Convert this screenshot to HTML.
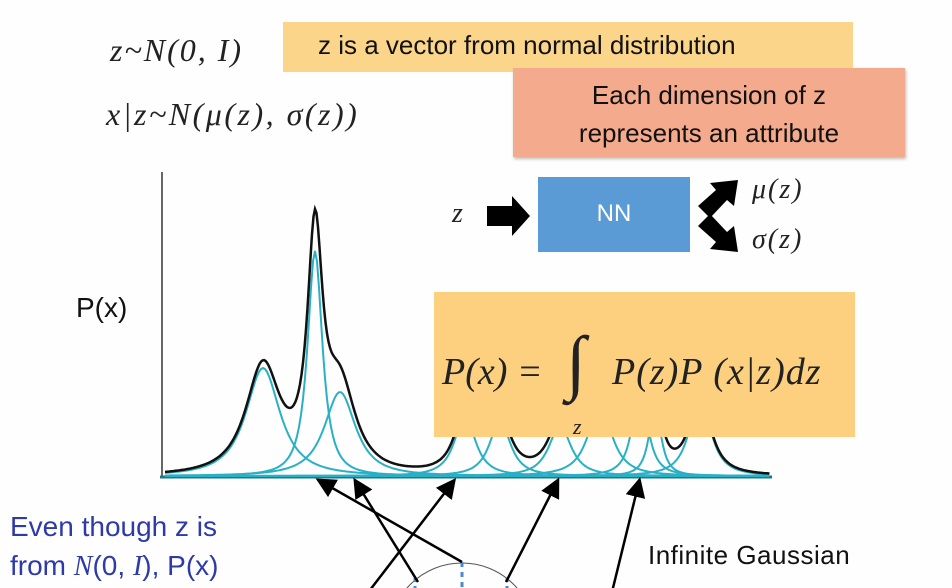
<!DOCTYPE html>
<html><head><meta charset="utf-8"><style>
body{margin:0;background:#fff;}
#c{position:relative;width:952px;height:588px;overflow:hidden;background:#fefefe;font-family:"Liberation Sans",sans-serif;}
.t{position:absolute;white-space:nowrap;}
.serif{font-family:"Liberation Serif",serif;font-style:italic;}
</style></head><body><div id="c">
<div style="position:absolute;left:283px;top:22px;width:570px;height:50px;background:#fbd68a;"></div>
<div class="t" style="left:318px;top:30px;font-size:26px;color:#111;">z is a vector from normal distribution</div>
<div style="position:absolute;left:513px;top:68px;width:392px;height:89px;background:#f4aa8c;box-shadow:1px 2px 3px #bbb;"></div>
<div class="t" style="left:513px;width:392px;text-align:center;top:76px;font-size:26px;line-height:38px;color:#111;">Each dimension of z<br>represents an attribute</div>
<div class="t serif" style="left:110px;top:32px;font-size:32px;letter-spacing:2px;color:#222;">z~N(0, I)</div>
<div class="t serif" style="left:106px;top:96px;font-size:32px;letter-spacing:2.5px;color:#222;">x|z~N(μ(z), σ(z))</div>
<div class="t" style="left:76px;top:292px;font-size:28px;color:#111;">P(x)</div>
<div style="position:absolute;left:538px;top:177px;width:152px;height:75px;background:#5b9bd5;"></div>
<div class="t" style="left:538px;width:152px;text-align:center;top:200px;font-size:24px;color:#fff;">NN</div>
<div class="t serif" style="left:452px;top:198px;font-size:28px;color:#222;">z</div>
<div class="t serif" style="left:752px;top:174px;font-size:28px;letter-spacing:2px;color:#222;">μ(z)</div>
<div class="t serif" style="left:752px;top:224px;font-size:28px;letter-spacing:2px;color:#222;">σ(z)</div>
<svg width="952" height="588" style="position:absolute;left:0;top:0;">
<line x1="162" y1="172" x2="162" y2="478" stroke="#333" stroke-width="1.5"/>
<line x1="160" y1="477" x2="772" y2="477" stroke="#1a7a8a" stroke-width="3"/>
<g id="cur" fill="none"></g>
<polygon points="487,206 512,206 512,196 530,216 512,236 512,226 487,226" fill="#000"/>
<polygon points="698,206 716,190 710,183 738,180 734,206 727,200 710,218" fill="#000"/>
<polygon points="698,226 710,214 727,232 734,226 738,252 710,249 716,242" fill="#000"/>
</svg>
<div style="position:absolute;left:434px;top:292px;width:421px;height:145px;background:#fcd07e;"></div>
<div class="t serif" style="left:442px;top:350px;font-size:38px;color:#222;">P(x) = </div>
<div class="t" style="left:566px;top:321px;font-size:72px;color:#222;font-family:'Liberation Serif',serif;">∫</div>
<div class="t serif" style="left:573px;top:414px;font-size:22px;color:#222;">z</div>
<div class="t serif" style="left:612px;top:350px;font-size:38px;letter-spacing:1px;color:#222;">P(z)P (x|z)dz</div>
<div class="t" style="left:10px;top:507px;font-size:28px;color:#2d3aa8;line-height:39px;">Even though z is<br>from <span class="serif">N</span>(0, <span class="serif">I</span>), P(x)</div>
<div class="t" style="left:648px;top:540px;font-size:26px;letter-spacing:0.5px;color:#111;">Infinite Gaussian</div>
<svg width="952" height="588" style="position:absolute;left:0;top:0;">
<defs><marker id="ah" markerWidth="8" markerHeight="8" refX="6" refY="4" orient="auto"><path d="M0,0 L8,4 L0,8z" fill="#000"/></marker></defs>
<circle cx="462" cy="636" r="73" fill="none" stroke="#555" stroke-width="1"/>
<line x1="462" y1="562" x2="462" y2="588" stroke="#4a8ad0" stroke-width="3" stroke-dasharray="5,5"/>
<line x1="415" y1="578" x2="415" y2="588" stroke="#4a8ad0" stroke-width="3" stroke-dasharray="4,4"/>
<line x1="507" y1="578" x2="507" y2="588" stroke="#4a8ad0" stroke-width="3" stroke-dasharray="4,4"/>
<g stroke="#000" stroke-width="2.5" marker-end="url(#ah)">
<line x1="462" y1="562" x2="320" y2="481"/>
<line x1="418" y1="582" x2="356" y2="482"/>
<line x1="370" y1="590" x2="453" y2="482"/>
<line x1="506" y1="582" x2="557" y2="482"/>
<line x1="612" y1="592" x2="639" y2="482"/>
</g>
</svg>
<script>
var comps=[[263,108,23],[315,225,10],[340,84,21],[465,60,14],[500,55,14],[560,50,15],[600,70,16],[640,90,10],[655,70,8],[700,80,14]];
var g=document.getElementById('cur'),B=476;
function f(c,x){var u=(x-c[0])/c[2];return c[1]/Math.pow(1+u*u,1.2);}
var s='';
comps.forEach(function(c){var d='';for(var x=165;x<=770;x+=2){d+=(x==165?'M':'L')+x+','+(B-f(c,x)).toFixed(1);}s+='<path d="'+d+'" stroke="#2ab0c4" stroke-width="2"/>';});
var d='';for(var x=165;x<=770;x+=1.5){var y=0;comps.forEach(function(c){y+=f(c,x);});d+=(x==165?'M':'L')+x+','+Math.max(B-y,188).toFixed(1);}
s+='<path d="'+d+'" stroke="#111" stroke-width="2.5"/>';
g.innerHTML=s;
</script>
</div></body></html>
